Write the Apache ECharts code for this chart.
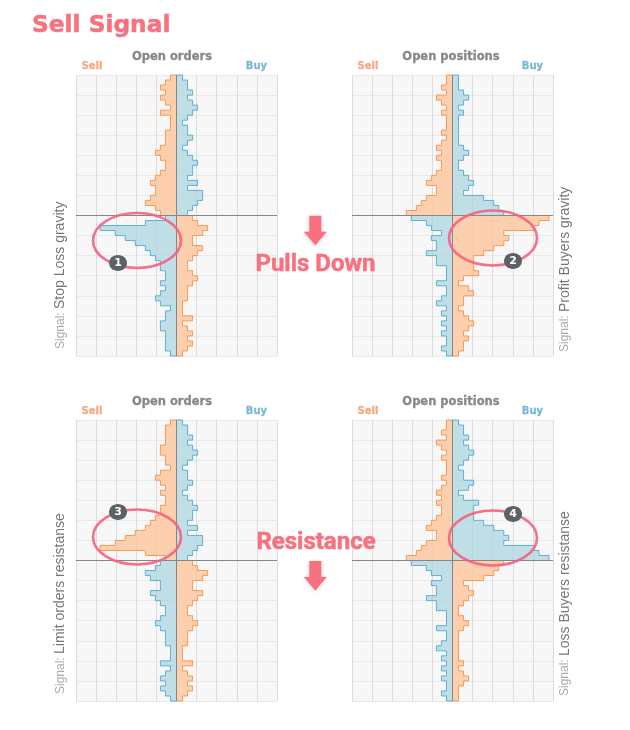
<!DOCTYPE html>
<html>
<head>
<meta charset="utf-8">
<title>Sell Signal</title>
<script src="https://cdn.jsdelivr.net/npm/echarts@6/dist/echarts.min.js"></script>
<style>
  html, body { margin: 0; padding: 0; background: #fff; }
  #chart { width: 630px; height: 730px; }
</style>
</head>
<body>
<div id="chart"></div>
<script>
// histogram sizes per row, top row first: 28 rows above the price line, 28 below
var sellOrdersGravity = [
  1,2,3,2,3,2,1,3,1,1,1,2,2,2,3,4,3,2,2,3,4,5,4,4,5,6,4,3,
  3,4,6,5,3,3,5,4,3,2,2,3,4,3,2,2,2,1,1,1,3,1,2,3,2,3,2,1];
var buyOrdersGravity = [
  1,2,2,3,2,3,4,3,2,1,2,2,3,2,1,2,3,4,3,3,2,4,2,5,5,4,3,2,
  2,6,15,12,10,8,6,5,4,3,3,2,2,3,2,3,4,3,1,2,2,3,3,2,2,2,2,1];
var sellPositionsGravity = [
  1,1,2,1,3,2,1,2,1,1,1,2,1,2,3,2,3,2,2,3,4,5,3,3,5,6,7,9,
  19,17,16,10,11,10,8,6,4,4,4,5,2,1,3,4,2,2,1,2,3,4,3,2,3,2,2,1];
var buyPositionsGravity = [
  1,1,1,2,3,2,1,2,1,1,1,1,1,1,2,3,2,1,1,2,3,4,3,2,6,8,9,10,
  8,5,4,2,4,3,3,5,3,3,1,1,1,3,1,1,2,3,1,2,1,2,1,2,1,1,2,1];
var sellOrdersResistance = [
  1,2,2,2,2,3,3,2,2,1,3,4,3,2,3,2,2,3,3,4,5,6,8,10,12,15,6,2,
  3,4,6,5,3,3,5,4,3,2,2,3,4,3,2,2,2,1,1,1,3,1,2,3,2,3,2,1];
var buyOrdersResistance = [
  1,2,2,3,2,3,4,3,2,1,2,2,3,2,1,2,3,4,3,3,2,4,2,5,5,4,3,2,
  3,4,6,5,3,3,5,4,3,2,2,3,4,3,2,2,2,1,1,1,3,1,2,3,2,3,2,1];
var sellPositionsResistance = [
  1,1,2,1,3,2,1,2,1,1,1,2,1,2,3,2,3,2,2,3,4,5,3,3,5,6,7,9,
  10,9,8,6,2,3,4,3,2,1,1,2,3,2,1,1,1,1,1,1,2,1,2,3,2,1,1,1];
var buyPositionsResistance = [
  1,2,2,3,2,3,4,3,2,1,2,2,4,3,1,2,5,4,4,4,6,8,10,11,10,16,17,19,
  8,5,4,2,4,3,3,5,3,3,1,1,1,3,1,1,2,3,1,2,1,2,1,2,1,1,2,1];

var panelTitles = ['Open orders', 'Open positions', 'Open orders', 'Open positions'];
var signalNames = ['Stop Loss gravity', 'Profit Buyers gravity', 'Limit orders resistanse', 'Loss Buyers resistanse'];

var SELL_LINE = '#f79a55', SELL_FILL = 'rgba(252,196,156,0.8)';
var BUY_LINE = '#5fb0d2', BUY_FILL = 'rgba(170,212,223,0.72)';
var PINK = '#f9707f';

var panels = [
  { left: 76, top: 75, sell: sellOrdersGravity, buy: buyOrdersGravity },
  { left: 352, top: 75, sell: sellPositionsGravity, buy: buyPositionsGravity },
  { left: 76, top: 420, sell: sellOrdersResistance, buy: buyOrdersResistance },
  { left: 352, top: 420, sell: sellPositionsResistance, buy: buyPositionsResistance }
];

// one closed stepped outline for a whole side, going through the price line
function renderSide(side, sign, lineColor, fillColor) {
  return function (params, api) {
    if (params.dataIndex !== 0) return;
    var pts = [api.coord([0, 28])];
    side.forEach(function (size, i) {
      if (i === 28) pts.push(api.coord([0, 0]));
      var x = (size + 0.2) * sign * (i < 28 ? -1 : 1);
      pts.push(api.coord([x, 28 - i]));
      pts.push(api.coord([x, 27 - i]));
    });
    pts.push(api.coord([0, -28]));
    return {
      type: 'polygon',
      shape: { points: pts },
      style: { fill: fillColor, stroke: lineColor, lineWidth: 1 }
    };
  };
}

var grids = [], xAxes = [], yAxes = [], series = [];
panels.forEach(function (p, n) {
  grids.push({ left: p.left, top: p.top, width: 201, height: 281, show: true, backgroundColor: '#f7f7f7', borderWidth: 0 });
  xAxes.push({
    gridIndex: n, type: 'value', min: -20, max: 20, interval: 4,
    axisLine: { show: false }, axisTick: { show: false }, axisLabel: { show: false },
    splitLine: { show: true, lineStyle: { color: '#dcdcdc', width: 1 } }
  });
  yAxes.push({
    gridIndex: n, type: 'value', min: -28, max: 28, interval: 4,
    axisLine: { show: false }, axisTick: { show: false }, axisLabel: { show: false },
    splitLine: { show: true, lineStyle: { color: '#e9e9e9', width: 1 } }
  });
  series.push({
    type: 'custom', xAxisIndex: n, yAxisIndex: n, silent: true, clip: false,
    renderItem: renderSide(p.sell, 1, SELL_LINE, SELL_FILL),
    data: p.sell.map(function (v, i) { return [i < 28 ? -v : v, 27.5 - i]; })
  });
  series.push({
    type: 'custom', xAxisIndex: n, yAxisIndex: n, silent: true, clip: false,
    renderItem: renderSide(p.buy, -1, BUY_LINE, BUY_FILL),
    data: p.buy.map(function (v, i) { return [i < 28 ? v : -v, 27.5 - i]; }),
    markLine: {
      silent: true, symbol: 'none', animation: false, label: { show: false },
      lineStyle: { color: '#868686', width: 1, type: 'solid' },
      data: [{ xAxis: 0 }, { yAxis: 0 }]
    }
  });
});

var graphic = [];
function addText(x, y, text, font, fill, align, extra) {
  var style = { x: x, y: y, text: text, font: font, fill: fill, align: align || 'center', verticalAlign: 'middle' };
  for (var k in extra) style[k] = extra[k];
  graphic.push({ type: 'text', z: 20, silent: true, style: style });
}

addText(32, 25.5, 'Sell Signal', 'bold 23.3px "DejaVu Sans"', PINK, 'left', { stroke: PINK, lineWidth: 0.5 });

panels.forEach(function (p, n) {
  var titleY = p.top - 18, sideY = p.top - 8.5;
  addText(p.left + (n % 2 ? 99 : 96), titleY, panelTitles[n], 'bold 11.5px "DejaVu Sans"', '#888888', 'center', { stroke: '#888888', lineWidth: 0.3 });
  addText(p.left + 16, sideY, 'Sell', 'bold 10px "DejaVu Sans"', '#f9a883', 'center', { stroke: '#f9a883', lineWidth: 0.3 });
  addText(p.left + 180.5, sideY, 'Buy', 'bold 10px "DejaVu Sans"', '#7db7d2', 'center', { stroke: '#7db7d2', lineWidth: 0.3 });
});

var signalX = [60.5, 565, 60.5, 565];
var signalY = [349, 352, 694, 696];
signalNames.forEach(function (name, n) {
  graphic.push({
    type: 'text', z: 20, silent: true, x: signalX[n], y: signalY[n], rotation: Math.PI / 2,
    style: {
      text: '{a|Signal:} {b|' + name + '}', align: 'left', verticalAlign: 'middle',
      rich: {
        a: { font: '12px "Liberation Sans"', fill: '#aaaaaa', color: '#aaaaaa' },
        b: { font: '14px "Liberation Sans"', fill: '#777777', color: '#777777' }
      }
    }
  });
});

// red hand-drawn rings
var rings = [[137, 240.5], [493, 238], [137, 537], [493, 538]];
var badges = [[118, 263, '1'], [513, 261, '2'], [118, 512, '3'], [513, 514, '4']];
rings.forEach(function (r) {
  graphic.push({
    type: 'ellipse', z: 15, silent: true,
    shape: { cx: r[0], cy: r[1], rx: 44, ry: 27.5 },
    style: { fill: 'none', stroke: '#f4607f', lineWidth: 2.6, opacity: 0.9 }
  });
});
badges.forEach(function (b) {
  graphic.push({
    type: 'ellipse', z: 16, silent: true,
    shape: { cx: b[0], cy: b[1], rx: 9, ry: 8 },
    style: { fill: '#5c6165' }
  });
  addText(b[0], b[1] + 0.5, b[2], 'bold 11px "DejaVu Sans"', '#ffffff');
});

// arrows and captions between the panels
function arrow(cx, top) {
  graphic.push({
    type: 'polygon', z: 15, silent: true,
    shape: { points: [[cx - 6, top], [cx + 6, top], [cx + 6, top + 16], [cx + 11.5, top + 16], [cx, top + 29.5], [cx - 11.5, top + 16], [cx - 6, top + 16]] },
    style: { fill: PINK, shadowBlur: 4, shadowColor: 'rgba(0,0,0,0.2)', shadowOffsetY: 1 }
  });
}
arrow(315.3, 215.7);
arrow(315.3, 561);
var captionShadow = { stroke: PINK, lineWidth: 0.5, shadowBlur: 4, shadowColor: 'rgba(0,0,0,0.25)', shadowOffsetY: 1 };
addText(315.5, 265, 'Pulls Down', 'bold 24px Roboto', PINK, 'center', captionShadow);
addText(316, 542.5, 'Resistance', 'bold 24px Roboto', PINK, 'center', captionShadow);

var chart = echarts.init(document.getElementById('chart'));
chart.setOption({
  animation: false,
  backgroundColor: '#ffffff',
  grid: grids,
  xAxis: xAxes,
  yAxis: yAxes,
  series: series,
  graphic: graphic
});
</script>
</body>
</html>
